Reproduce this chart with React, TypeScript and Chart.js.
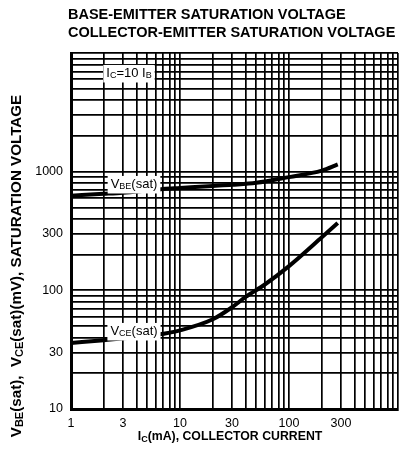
import React, { useEffect, useRef } from "react";
import { Chart, registerables } from "chart.js";

Chart.register(...registerables);

// Collector current (mA) and saturation voltages (mV)
const vbeCurrent = [1, 2, 3, 5, 7, 10, 20, 30, 50, 100, 200, 280];
const vbeSat = [628, 650, 665, 695, 716, 730, 758, 775, 805, 900, 1020, 1150];

const vceCurrent = [1, 2, 3, 5, 7, 10, 20, 30, 40, 60, 100, 200, 280];
const vceSat = [36, 38, 39.5, 41, 43, 46, 57, 72, 88, 112, 160, 280, 370];

const xTickLabels = [1, 3, 10, 30, 100, 300];
const yTickLabels = [10, 30, 100, 300, 1000];

const mantissas = [1, 2, 3, 4, 5, 6, 7, 8, 9];
const xDecades = [1, 10, 100];
const yDecades = [10, 100, 1000];

const xGrid = [...xDecades.flatMap((d) => mantissas.map((m) => m * d)), 1000];
const yGrid = [...yDecades.flatMap((d) => mantissas.map((m) => m * d)), 10000];

const FONT = "'Liberation Sans', Arial, Helvetica, sans-serif";

type Run = { t: string; sub?: boolean };

function runsWidth(ctx: CanvasRenderingContext2D, runs: Run[], size: number, bold: boolean) {
  let w = 0;
  for (const r of runs) {
    ctx.font = `${bold ? "bold " : ""}${r.sub ? Math.round(size * 0.72) : size}px ${FONT}`;
    w += ctx.measureText(r.t).width;
  }
  return w;
}

function drawRuns(
  ctx: CanvasRenderingContext2D,
  runs: Run[],
  x: number,
  y: number,
  size: number,
  bold: boolean,
  align: "left" | "center",
  bg = false
) {
  const w = runsWidth(ctx, runs, size, bold);
  let cx = align === "center" ? x - w / 2 : x;
  if (bg) {
    ctx.fillStyle = "#fff";
    ctx.fillRect(cx - 3, y - size * 0.62, w + 6, size * 1.35);
  }
  ctx.fillStyle = "#000";
  ctx.textAlign = "left";
  ctx.textBaseline = "middle";
  for (const r of runs) {
    const s = r.sub ? Math.round(size * 0.72) : size;
    ctx.font = `${bold ? "bold " : ""}${s}px ${FONT}`;
    ctx.fillText(r.t, cx, r.sub ? y + size * 0.22 : y);
    cx += ctx.measureText(r.t).width;
  }
}

const textPlugin = {
  id: "datasheetText",
  afterDraw(chart: any) {
    const ctx: CanvasRenderingContext2D = chart.ctx;
    ctx.save();
    // Title
    drawRuns(ctx, [{ t: "BASE-EMITTER SATURATION VOLTAGE" }], 68, 15, 14.5, true, "left");
    drawRuns(ctx, [{ t: "COLLECTOR-EMITTER SATURATION VOLTAGE" }], 68, 33, 14.5, true, "left");
    // Annotations
    drawRuns(
      ctx,
      [{ t: "I" }, { t: "C", sub: true }, { t: "=10 I" }, { t: "B", sub: true }],
      129,
      73,
      13,
      false,
      "center",
      true
    );
    drawRuns(ctx, [{ t: "V" }, { t: "BE", sub: true }, { t: "(sat)" }], 134, 184, 13, false, "center", true);
    drawRuns(ctx, [{ t: "V" }, { t: "CE", sub: true }, { t: "(sat)" }], 134, 331, 13, false, "center", true);
    // X axis title
    drawRuns(
      ctx,
      [{ t: "I" }, { t: "C", sub: true }, { t: "(mA), COLLECTOR CURRENT" }],
      230,
      437,
      12.3,
      true,
      "center"
    );
    // Y axis title
    ctx.translate(17, 266);
    ctx.rotate(-Math.PI / 2);
    drawRuns(
      ctx,
      [
        { t: "V" },
        { t: "BE", sub: true },
        { t: "(sat),  V" },
        { t: "CE", sub: true },
        { t: "(sat)(mV), SATURATION VOLTAGE" },
      ],
      0,
      0,
      15.2,
      true,
      "center"
    );
    ctx.restore();
  },
};

export default function App() {
  const ref = useRef<HTMLCanvasElement | null>(null);
  useEffect(() => {
    if (!ref.current) return;
    const chart = new Chart(ref.current, {
      type: "line",
      data: {
        datasets: [
          {
            label: "VBE(sat)",
            data: vbeCurrent.map((x, i) => ({ x, y: vbeSat[i] })),
            borderColor: "#000",
            borderWidth: 4,
            pointRadius: 0,
            cubicInterpolationMode: "monotone",
            fill: false,
          },
          {
            label: "VCE(sat)",
            data: vceCurrent.map((x, i) => ({ x, y: vceSat[i] })),
            borderColor: "#000",
            borderWidth: 4,
            pointRadius: 0,
            cubicInterpolationMode: "monotone",
            fill: false,
          },
        ],
      },
      options: {
        responsive: false,
        animation: false,
        layout: { padding: { top: 53, right: 7, left: 0, bottom: 0 } },
        plugins: { legend: { display: false }, title: { display: false }, tooltip: { enabled: false } },
        scales: {
          x: {
            type: "logarithmic",
            min: 1,
            max: 1000,
            afterBuildTicks: (s: any) => {
              s.ticks = xGrid.map((v) => ({ value: v }));
            },
            afterFit: (s: any) => {
              s.height = 40;
            },
            ticks: {
              autoSkip: false,
              maxRotation: 0,
              padding: 7,
              color: "#000",
              font: { family: FONT, size: 12.5 },
              callback: (v: any) => (xTickLabels.includes(Number(v)) ? String(v) : ""),
            },
            grid: { color: "#000", lineWidth: 1.7, drawTicks: false },
            border: { display: true, color: "#000", width: 3 },
          },
          y: {
            type: "logarithmic",
            min: 10,
            max: 10000,
            afterBuildTicks: (s: any) => {
              s.ticks = yGrid.map((v) => ({ value: v }));
            },
            afterFit: (s: any) => {
              s.width = 71;
            },
            ticks: {
              autoSkip: false,
              padding: 8,
              color: "#000",
              font: { family: FONT, size: 12.5 },
              callback: (v: any) => (yTickLabels.includes(Number(v)) ? String(v) : ""),
            },
            grid: { color: "#000", lineWidth: 1.7, drawTicks: false },
            border: { display: true, color: "#000", width: 3 },
          },
        },
      },
      plugins: [textPlugin],
    });
    return () => chart.destroy();
  }, []);
  return (
    <div style={{ position: "absolute", left: 0, top: 0, width: 405, height: 449, background: "#fff" }}>
      <canvas ref={ref} width={405} height={449} />
    </div>
  );
}
